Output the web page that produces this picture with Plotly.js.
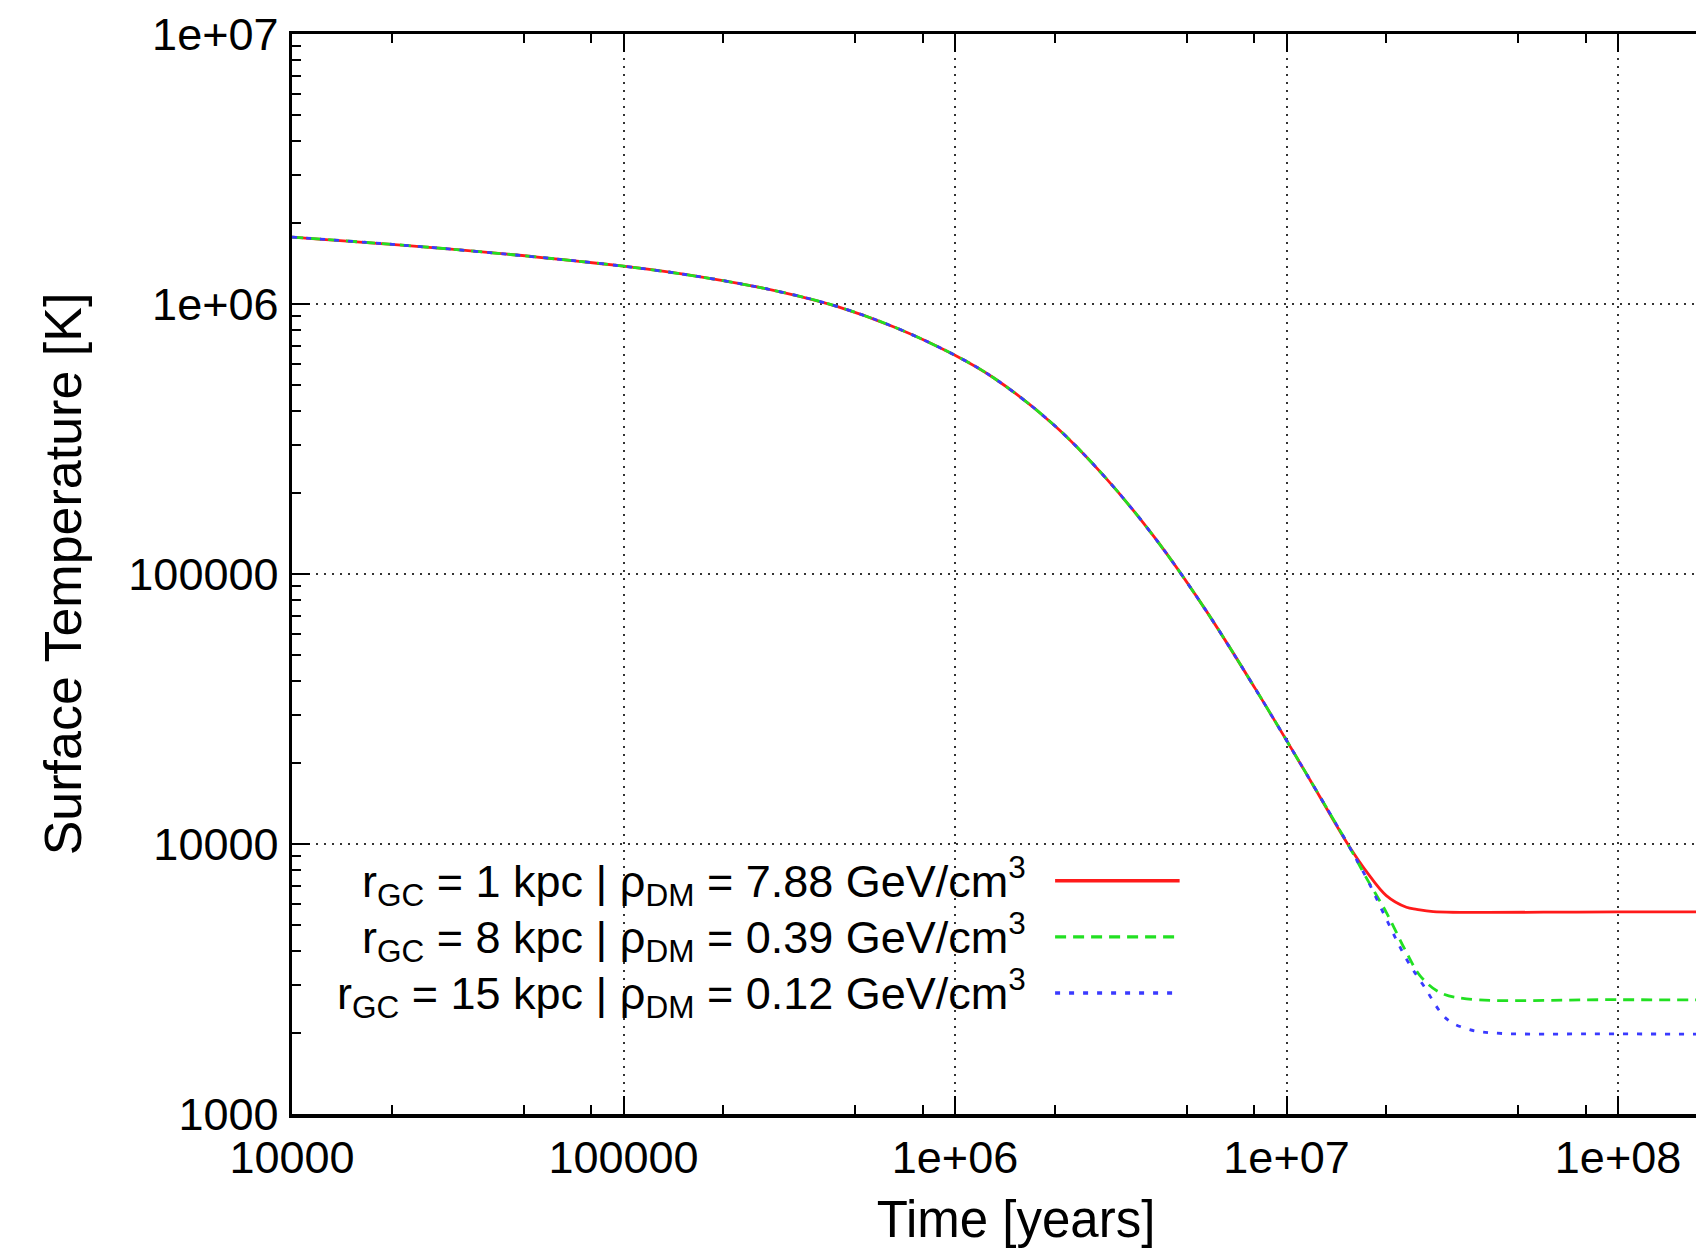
<!DOCTYPE html>
<html>
<head>
<meta charset="utf-8">
<script src="https://cdn.plot.ly/plotly-3.0.1.min.js"></script>
<style>
  html, body { margin: 0; padding: 0; overflow: hidden; background: #fff; }
  #chart { width: 1800px; height: 1248px; }
</style>
</head>
<body>
<div id="chart"></div>
<script>
// ---- data (time in years, temperature in K) ----
const commonTime = [1e4, 3.14e4, 1e5, 1.78e5, 2.97e5, 4.4e5, 6.52e5, 9.9e5, 1.31e6, 1.98e6, 2.83e6, 4.01e6, 5.68e6, 8.04e6, 1.18e7, 1.53e7];
const commonTemp = [1.77e6, 1.59e6, 1.38e6, 1.25e6, 1.11e6, 9.8e5, 8.24e5, 6.5e5, 5.32e5, 3.58e5, 2.29e5, 1.36e5, 7.41e4, 3.77e4, 1.72e4, 1.0e4];

const redTailTime = [1.75e7, 2.0e7, 2.30e7, 2.47e7, 2.77e7, 1e8, 1e9];
const redTailTemp = [7.85e3, 6.44e3, 5.83e3, 5.73e3, 5.62e3, 5.61e3, 5.61e3];

const greenTailTime = [1.75e7, 2.0e7, 2.30e7, 2.53e7, 2.90e7, 3.49e7, 1e8, 1e9];
const greenTailTemp = [7.41e3, 5.58e3, 3.97e3, 3.25e3, 2.82e3, 2.67e3, 2.65e3, 2.65e3];

const blueTailTime = [1.75e7, 2.0e7, 2.30e7, 2.59e7, 3.04e7, 3.49e7, 4.11e7, 1e8, 1e9];
const blueTailTemp = [7.41e3, 5.27e3, 3.75e3, 2.99e3, 2.25e3, 2.07e3, 2.0e3, 1.98e3, 1.98e3];

const seriesNames = [
  'r<sub>GC</sub> = 1 kpc | ρ<sub>DM</sub> = 7.88 GeV/cm<sup>3</sup>',
  'r<sub>GC</sub> = 8 kpc | ρ<sub>DM</sub> = 0.39 GeV/cm<sup>3</sup>',
  'r<sub>GC</sub> = 15 kpc | ρ<sub>DM</sub> = 0.12 GeV/cm<sup>3</sup>'
];
const seriesColors = ['#ff1a1a', '#22e022', '#3a3aff'];
const seriesDash = ['solid', '11px,7px', '5px,9px'];

const xTickVals = [1e4, 1e5, 1e6, 1e7, 1e8];
const xTickText = ['10000', '100000', '1e+06', '1e+07', '1e+08'];
const yTickVals = [1e3, 1e4, 1e5, 1e6, 1e7];
const yTickText = ['1000', '10000', '100000', '1e+06', '1e+07'];
const xMinorMultipliers = [2, 5, 8];

// ---- build ----
const tails = [[redTailTime, redTailTemp], [greenTailTime, greenTailTemp], [blueTailTime, blueTailTemp]];
const traces = tails.map((t, i) => ({
  x: commonTime.concat(t[0]),
  y: commonTemp.concat(t[1]),
  type: 'scatter',
  mode: 'lines',
  name: seriesNames[i],
  line: { color: seriesColors[i], width: 2.8, dash: seriesDash[i], shape: 'spline', smoothing: 1 },
  showlegend: false
}));

const xMinor = [];
for (let e = 4; e <= 8; e++) xMinorMultipliers.forEach(m => xMinor.push(m * Math.pow(10, e)));

const FONT = 'Liberation Sans, Arial, Helvetica, sans-serif';

// legend (gnuplot style: text right-aligned, sample to the right)
const legY = [0.216, 0.164, 0.112];
const annotations = seriesNames.map((n, i) => ({
  xref: 'paper', yref: 'paper', x: 0.508, y: legY[i],
  xanchor: 'right', yanchor: 'middle', showarrow: false,
  text: n, font: { family: FONT, size: 45, color: '#000' }
}));
const shapes = seriesNames.map((n, i) => ({
  type: 'line', xref: 'paper', yref: 'paper',
  x0: 0.527, x1: 0.613, y0: legY[i], y1: legY[i],
  line: { color: seriesColors[i], width: 3.4, dash: seriesDash[i] }
}));

const axisCommon = {
  type: 'log',
  showline: true, linecolor: '#000', linewidth: 3.5, mirror: 'ticks',
  ticks: 'inside', ticklen: 18, tickwidth: 2, tickcolor: '#000',
  showgrid: true, gridcolor: '#333', gridwidth: 2, griddash: '2px,6px',
  zeroline: false, tickmode: 'array',
  tickfont: { family: FONT, size: 45, color: '#000' }
};

const layout = {
  width: 1800, height: 1248,
  margin: { l: 292, r: 60, t: 34, b: 134 },
  paper_bgcolor: '#fff', plot_bgcolor: '#fff',
  font: { family: FONT, color: '#000' },
  showlegend: false,
  xaxis: Object.assign({}, axisCommon, {
    range: [4, 8.368],
    tickvals: xTickVals, ticktext: xTickText,
    ticklabelstandoff: 1,
    minor: { tickmode: 'array', tickvals: xMinor, ticks: 'inside', ticklen: 9, tickwidth: 2, tickcolor: '#000', showgrid: false },
    title: { text: 'Time [years]', font: { family: FONT, size: 51, color: '#000' }, standoff: 33 }
  }),
  yaxis: Object.assign({}, axisCommon, {
    range: [3, 7],
    tickvals: yTickVals, ticktext: yTickText,
    ticklabelstandoff: 1,
    minor: { dtick: 'D1', ticks: 'inside', ticklen: 9, tickwidth: 2, tickcolor: '#000', showgrid: false },
    title: { text: 'Surface Temperature [K]', font: { family: FONT, size: 52, color: '#000' }, standoff: 31 }
  }),
  annotations: annotations,
  shapes: shapes
};

Plotly.newPlot('chart', traces, layout, { staticPlot: true, displayModeBar: false });
</script>
</body>
</html>
